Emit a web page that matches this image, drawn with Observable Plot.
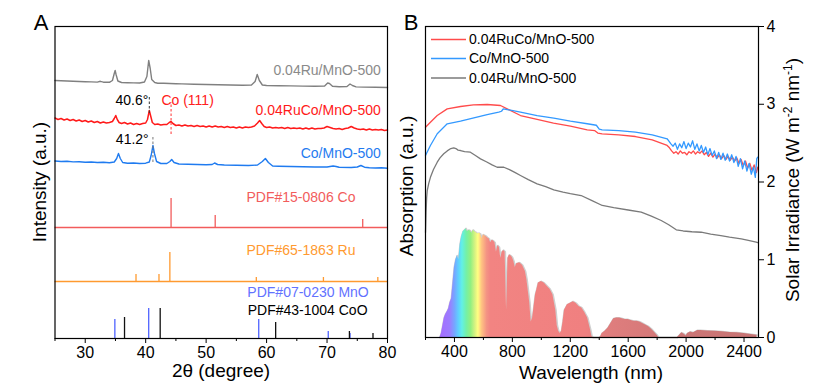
<!DOCTYPE html>
<html><head><meta charset="utf-8">
<script src="https://cdn.jsdelivr.net/npm/d3@7"></script>
<script src="https://cdn.jsdelivr.net/npm/@observablehq/plot@0.6"></script>
<style>
body{margin:0;background:#fff;}
#wrap{position:relative;width:828px;height:390px;overflow:hidden;background:#fff;}
#wrap svg{position:absolute;top:0;}
</style></head><body><div id="wrap"></div>
<script>
// ---------- Panel A: XRD (2θ in degrees, intensity in a.u.) ----------
const xrdRu = [[25,258],[26,257.8],[27,257.5],[28,257.3],[29,257],[30,256.8],[31,256.6],[32,256.4],[32.5,257.2],[33,256.3],[34,256.2],[34.5,258],[34.8,265],[34.95,268],[35.1,264],[35.4,257.5],[36,256],[37,255.8],[38,255.6],[39,255.5],[39.8,256.5],[40.2,262],[40.5,278],[40.75,270],[41,259],[41.5,256],[42,255.3],[43,255.2],[44,255],[45,254.8],[46,254.6],[48,254.3],[50,254],[52,253.7],[54,253.5],[56,253.3],[57.5,253.5],[58.1,257],[58.45,264],[58.8,258],[59.3,253.5],[60,253],[62,252.8],[64,252.6],[66,252.4],[68,252.2],[69.6,252.5],[70.1,255.5],[70.4,255],[70.9,252.2],[72,251.8],[73.3,252],[73.8,254.5],[74.2,253],[74.8,251.6],[76,251.4],[78,251.2],[80,251]];
const xrdRuCo = [[25,220.5],[25.5,219],[26,220],[26.5,218.5],[27,219.5],[27.5,218],[28,219],[28.5,217.5],[29,218.5],[29.5,217],[30,218],[30.5,216.5],[31,217.5],[31.5,216],[32,217],[32.5,215.5],[33,216.5],[33.5,215.5],[34,216],[34.5,217],[34.8,220],[35.05,223],[35.3,219],[35.6,216],[36,215],[36.5,216],[37,214.5],[37.5,215.5],[38,214],[38.5,215],[39,214],[39.5,215],[40,215.5],[40.3,219],[40.6,228],[40.85,222],[41.1,216],[41.5,214],[42,214.5],[42.5,213.5],[43,214],[43.5,214],[43.9,216],[44.2,217],[44.5,215],[45,213],[45.5,213.5],[46,212.5],[46.5,213.5],[47,212.5],[47.5,213],[48,212],[48.5,213],[49,212],[49.5,212.5],[50,211.5],[50.5,212.5],[51,211.5],[51.5,212.5],[52,211.5],[52.5,212],[53,211],[53.5,212],[54,211],[54.5,211.5],[55,210.5],[55.5,211.5],[56,210.5],[56.5,211.5],[57,211],[57.5,211.5],[58,212.5],[58.5,215.5],[58.85,218],[59.2,215],[59.6,212],[60,211],[60.5,211.5],[61,210.5],[61.5,211],[62,210.5],[62.5,211],[63,210],[63.5,211],[64,210],[64.5,210.5],[65,210],[65.5,210.5],[66,209.5],[66.5,210.5],[67,209.5],[67.5,210.5],[68,209.5],[68.5,210],[69,210],[69.5,210.5],[70,212],[70.5,211],[71,210],[71.5,209.5],[72,210],[72.5,209],[73,210],[73.5,210.5],[74,212],[74.5,210.5],[75,209.5],[75.5,209],[76,209.5],[76.5,208.5],[77,209.5],[77.5,208.5],[78,209],[78.5,208.5],[79,209],[79.5,208],[80,208.5]];
const xrdCo = [[25,177.5],[26,177],[27,177.2],[28,176.6],[29,176.8],[30,176.3],[31,176.5],[32,176],[33,176.2],[34,175.8],[34.8,176.5],[35.2,180],[35.5,185],[35.8,180],[36.2,176],[37,175.3],[38,175.5],[39,175],[40,175.3],[40.6,176.5],[40.9,183],[41.2,193],[41.45,185],[41.8,177],[42.5,175],[43.5,175],[44,177],[44.3,179],[44.7,176],[45.5,174.5],[47,174.3],[48.5,174],[50,173.8],[51,174],[51.4,175.5],[51.9,174],[53,173.5],[55,173.2],[57,173],[58.5,173.5],[59.3,177],[59.8,180],[60.3,176],[61,172.5],[62,172.3],[64,172],[66,171.8],[68,171.5],[70,171.5],[71,172.5],[71.5,172],[72,171.3],[74,171],[75,171.5],[75.6,173],[76.2,171.3],[77,170.8],[78,170.5],[79,170.7],[80,170.3]];
// reference patterns: [2θ, relative height]
const pdfCo  = [[44.2,29],[51.5,12],[75.9,8]];
const pdfRu  = [[38.4,7],[42.2,7],[44.0,29],[58.3,4],[69.4,4],[78.4,4]];
const pdfMnO = [[34.9,19],[40.5,30],[58.7,19],[70.2,7],[73.8,5]];
const pdfCoO = [[36.5,21],[42.4,30],[61.5,16],[73.7,7],[77.6,5]];
const ticksA = [30,40,50,60,70,80];
const minorA = [25,35,45,55,65,75];

// ---------- Panel B: absorption & solar irradiance (nm) ----------
const absRuCo = [[200,2.705],[234,2.769],[281,2.855],[350,2.941],[442,2.971],[531,2.993],[626,2.997],[718,2.984],[764,2.941],[856,2.855],[971,2.804],[1084,2.756],[1201,2.718],[1317,2.671],[1370,2.66],[1390,2.63],[1420,2.62],[1535,2.607],[1650,2.585],[1766,2.543],[1869,2.47],[1885,2.44],[1900,2.40],[1915,2.37],[1930,2.39],[1945,2.36],[1960,2.40],[1975,2.37],[1990,2.38],[2005,2.35],[2020,2.39],[2035,2.37],[2050,2.40],[2065,2.36],[2080,2.39],[2095,2.37],[2110,2.40],[2125,2.35],[2140,2.38],[2155,2.33],[2170,2.37],[2185,2.32],[2200,2.36],[2215,2.31],[2230,2.35],[2245,2.30],[2260,2.34],[2275,2.29],[2290,2.33],[2305,2.28],[2320,2.32],[2335,2.27],[2350,2.31],[2365,2.24],[2380,2.29],[2395,2.21],[2410,2.27],[2425,2.18],[2440,2.24],[2455,2.15],[2470,2.22],[2485,2.12],[2495,2.19]];
const absCo = [[200,2.341],[234,2.469],[281,2.62],[350,2.749],[442,2.782],[534,2.826],[626,2.868],[706,2.898],[725,2.91],[737,2.941],[764,2.932],[856,2.898],[971,2.855],[1086,2.821],[1201,2.782],[1317,2.749],[1380,2.73],[1400,2.68],[1420,2.671],[1535,2.662],[1650,2.641],[1766,2.607],[1869,2.556],[1880,2.53],[1895,2.49],[1910,2.46],[1925,2.50],[1940,2.42],[1955,2.49],[1970,2.44],[1985,2.52],[2000,2.43],[2015,2.50],[2030,2.45],[2045,2.53],[2060,2.42],[2075,2.49],[2090,2.40],[2105,2.47],[2120,2.38],[2135,2.45],[2150,2.35],[2165,2.43],[2180,2.34],[2195,2.40],[2210,2.30],[2225,2.38],[2240,2.29],[2255,2.37],[2270,2.28],[2285,2.36],[2300,2.27],[2315,2.35],[2330,2.25],[2345,2.33],[2360,2.20],[2375,2.30],[2390,2.17],[2405,2.27],[2420,2.14],[2435,2.24],[2450,2.10],[2465,2.19],[2478,2.06],[2488,2.30],[2495,2.32]];
const absRu = [[200,1.35],[204,1.62],[208,1.80],[212,1.89],[222,1.98],[234,2.06],[255,2.16],[281,2.255],[300,2.31],[326,2.363],[350,2.40],[375,2.43],[395,2.44],[410,2.43],[425,2.41],[442,2.405],[470,2.39],[510,2.383],[545,2.34],[580,2.298],[620,2.26],[660,2.22],[695,2.19],[720,2.19],[741,2.19],[780,2.16],[820,2.12],[856,2.084],[910,2.03],[971,1.977],[1030,1.94],[1086,1.90],[1150,1.87],[1200,1.85],[1275,1.826],[1350,1.76],[1421,1.698],[1500,1.67],[1600,1.64],[1690,1.612],[1760,1.56],[1828,1.505],[1880,1.45],[1932,1.385],[1980,1.37],[2040,1.36],[2104,1.354],[2170,1.33],[2240,1.31],[2300,1.29],[2381,1.269],[2430,1.25],[2484,1.227],[2495,1.22]];
const solar = [[300,0],[310,0.05],[320,0.15],[330,0.25],[340,0.3],[350,0.33],[360,0.37],[370,0.45],[380,0.5],[390,0.7],[400,0.9],[410,1.0],[420,1.05],[430,1.0],[440,1.2],[450,1.3],[460,1.36],[470,1.38],[480,1.40],[490,1.36],[500,1.38],[510,1.37],[520,1.34],[530,1.38],[540,1.36],[550,1.35],[560,1.33],[570,1.34],[580,1.33],[590,1.27],[600,1.32],[610,1.31],[620,1.30],[630,1.28],[640,1.27],[650,1.22],[660,1.25],[670,1.24],[680,1.22],[690,1.10],[700,1.18],[710,1.16],[720,1.02],[730,1.10],[740,1.12],[750,1.10],[760,0.35],[770,1.02],[780,1.06],[790,1.05],[800,1.03],[810,0.98],[820,0.90],[830,0.95],[850,0.96],[870,0.93],[890,0.85],[900,0.75],[920,0.45],[930,0.20],[940,0.25],[950,0.40],[960,0.55],[970,0.62],[980,0.70],[1000,0.72],[1020,0.70],[1040,0.66],[1060,0.62],[1080,0.55],[1100,0.35],[1110,0.15],[1120,0.08],[1130,0.05],[1140,0.08],[1150,0.20],[1160,0.35],[1180,0.42],[1200,0.44],[1220,0.46],[1240,0.44],[1260,0.40],[1280,0.38],[1300,0.32],[1320,0.25],[1340,0.10],[1350,0.01],[1360,0],[1400,0],[1410,0.01],[1420,0.05],[1440,0.08],[1460,0.12],[1480,0.18],[1500,0.24],[1520,0.25],[1540,0.25],[1560,0.24],[1580,0.23],[1600,0.23],[1620,0.22],[1640,0.21],[1660,0.21],[1680,0.20],[1700,0.18],[1720,0.16],[1740,0.14],[1760,0.11],[1780,0.07],[1800,0.03],[1810,0],[1940,0],[1950,0.02],[1970,0.06],[1990,0.04],[2000,0.02],[2010,0.05],[2030,0.07],[2050,0.06],[2060,0.07],[2080,0.09],[2100,0.09],[2150,0.085],[2200,0.08],[2250,0.075],[2300,0.065],[2350,0.06],[2400,0.05],[2450,0.04],[2490,0.03]];
const ticksB = [400,800,1200,1600,2000,2400];
const minorB = [200,600,1000,1400,1800,2200];
const ticksIrr = [0,1,2,3,4];
const legendB = [["0.04RuCo/MnO-500","#ff4b4b"],["Co/MnO-500","#3399ff"],["0.04Ru/MnO-500","#7a7a7a"]];

const FONT = 'Arial, "Liberation Sans", Helvetica, sans-serif';
const pts = a => a.map(([x, y]) => ({x, y}));
const wrap = document.getElementById("wrap");
const intFmt = d3.format("d");

// ---------- Panel A ----------
const offCo = 111, offRu = 57;
const A = Plot.plot({
  width: 398, height: 390,
  marginLeft: 54.5, marginRight: 11, marginTop: 26, marginBottom: 52,
  style: {fontFamily: FONT, fontSize: "16px", background: "transparent", color: "#000", overflow: "visible"},
  x: {domain: [25, 80], axis: null, label: null},
  y: {domain: [0, 312], axis: null, label: null},
  marks: [
    Plot.ruleY([offCo], {stroke: "#f25c5c", strokeWidth: 1.3}),
    Plot.ruleY([offRu], {stroke: "#ff9a30", strokeWidth: 1.3}),
    Plot.ruleX(pdfCo, {x: d => d[0], y1: offCo, y2: d => offCo + d[1], stroke: "#f25c5c", strokeWidth: 1.3}),
    Plot.ruleX(pdfRu, {x: d => d[0], y1: offRu, y2: d => offRu + d[1], stroke: "#ff9a30", strokeWidth: 1.3}),
    Plot.ruleX(pdfMnO, {x: d => d[0], y1: 0, y2: d => d[1], stroke: "#4f63ff", strokeWidth: 1.3}),
    Plot.ruleX(pdfCoO, {x: d => d[0], y1: 0, y2: d => d[1], stroke: "#111", strokeWidth: 1.3}),
    Plot.line(pts(xrdRu), {x: "x", y: "y", stroke: "#808080", strokeWidth: 1.4}),
    Plot.line(pts(xrdRuCo), {x: "x", y: "y", stroke: "#ff1a1a", strokeWidth: 1.5}),
    Plot.line(pts(xrdCo), {x: "x", y: "y", stroke: "#1f7bf0", strokeWidth: 1.4}),
    Plot.ruleX([40.6], {y1: 225, y2: 241, stroke: "#333", strokeDasharray: "2.5,2", strokeWidth: 1}),
    Plot.ruleX([44.2], {y1: 204, y2: 236, stroke: "#ff3030", strokeDasharray: "2.5,2", strokeWidth: 1}),
    Plot.ruleX([41.2], {y1: 176, y2: 203, stroke: "#777", strokeDasharray: "2.5,2", strokeWidth: 1}),
    Plot.text(["40.6°"], {x: 40.45, y: 238, textAnchor: "end", fill: "#000", fontSize: 14}),
    Plot.text(["Co (111)"], {x: 42.6, y: 238, textAnchor: "start", fill: "#ff2020", fontSize: 14}),
    Plot.text(["41.2°"], {x: 40.5, y: 199, textAnchor: "end", fill: "#000", fontSize: 14}),
    Plot.text(["0.04Ru/MnO-500"], {x: 78.9, y: 268, textAnchor: "end", fill: "#8a8a8a", fontSize: 14}),
    Plot.text(["0.04RuCo/MnO-500"], {x: 78.9, y: 228, textAnchor: "end", fill: "#ff1a1a", fontSize: 14}),
    Plot.text(["Co/MnO-500"], {x: 78.9, y: 185, textAnchor: "end", fill: "#1f7bf0", fontSize: 14}),
    Plot.text(["PDF#15-0806 Co"], {x: 74.7, y: 141, textAnchor: "end", fill: "#f25c5c", fontSize: 14}),
    Plot.text(["PDF#65-1863 Ru"], {x: 74.7, y: 88, textAnchor: "end", fill: "#ff9a30", fontSize: 14}),
    Plot.text(["PDF#07-0230 MnO"], {x: 76.9, y: 46, textAnchor: "end", fill: "#6272ff", fontSize: 14}),
    Plot.text(["PDF#43-1004 CoO"], {x: 76.7, y: 28, textAnchor: "end", fill: "#000", fontSize: 14}),
    Plot.frame({stroke: "#000", strokeWidth: 1.2}),
    Plot.axisX({ticks: ticksA, tickSize: 5, tickPadding: 3, tickFormat: intFmt, label: null, fontSize: 16}),
    Plot.axisX({ticks: minorA, tickSize: 3, tickFormat: () => "", label: null})
  ]
});
A.style.left = "0px";
wrap.appendChild(A);

// ---------- Panel B ----------
const B = Plot.plot({
  width: 430, height: 390,
  marginLeft: 27, marginRight: 70, marginTop: 26, marginBottom: 53,
  style: {fontFamily: FONT, fontSize: "16px", background: "transparent", color: "#000", overflow: "visible"},
  x: {domain: [200, 2500], axis: null, label: null},
  y: {domain: [0, 4], axis: null, label: null},
  marks: [
    Plot.line(pts(solar), {x: "x", y: "y", stroke: "#cfcfcf", strokeWidth: 2}),
    Plot.areaY(pts(solar), {x: "x", y: "y", fill: "url(#solarGrad)"}),
    Plot.line(pts(absRuCo), {x: "x", y: "y", stroke: "#ff4b4b", strokeWidth: 1.3}),
    Plot.line(pts(absCo), {x: "x", y: "y", stroke: "#3399ff", strokeWidth: 1.3}),
    Plot.line(pts(absRu), {x: "x", y: "y", stroke: "#7a7a7a", strokeWidth: 1.3}),
    Plot.frame({stroke: "#000", strokeWidth: 1.2}),
    Plot.axisX({ticks: ticksB, tickSize: 5, tickPadding: 3, tickFormat: intFmt, label: null, fontSize: 16}),
    Plot.axisX({ticks: minorB, tickSize: 3, tickFormat: () => "", label: null}),
    Plot.axisY({anchor: "right", ticks: ticksIrr, tickSize: 5, tickPadding: 3, tickFormat: intFmt, label: null, fontSize: 16})
  ]
});
B.style.left = "398px";
wrap.appendChild(B);

// gradient for the solar spectrum, positioned with the x scale
const xs = B.scale("x");
const gx1 = xs.apply(300), gx2 = xs.apply(2500);
const stops = [[300,"#a46cff"],[370,"#9c7cff"],[405,"#74a8ff"],[430,"#5fcfff"],[455,"#62f0e6"],[485,"#74f0a8"],[515,"#92f080"],[545,"#d8f282"],[565,"#ffff82"],[590,"#ffc482"],[625,"#f49484"],[650,"#f28482"],[1300,"#f08080"],[1450,"#e07e7e"],[1700,"#d87a7a"],[2000,"#cc7676"],[2500,"#c87474"]];
const defs = d3.select(B).insert("defs", ":first-child");
const lg = defs.append("linearGradient").attr("id", "solarGrad")
  .attr("gradientUnits", "userSpaceOnUse")
  .attr("x1", gx1).attr("x2", gx2).attr("y1", 0).attr("y2", 0);
stops.forEach(([nm, c]) => lg.append("stop").attr("offset", (xs.apply(nm) - gx1) / (gx2 - gx1)).attr("stop-color", c));

// legend in panel B
const sB = d3.select(B);
legendB.forEach(([name, c], i) => {
  const y = [39.5, 58.5, 78][i];
  sB.append("line").attr("x1", 33).attr("x2", 68).attr("y1", y).attr("y2", y).attr("stroke", c).attr("stroke-width", 1.5);
  sB.append("text").attr("x", 71).attr("y", y).attr("dy", "0.35em").attr("text-anchor", "start")
    .attr("font-family", FONT).attr("font-size", 14).attr("fill", "#000").text(name);
});

// titles and axis labels
const sA = d3.select(A);
sA.append("text").attr("x", 41).attr("y", 30).attr("text-anchor", "middle").attr("font-family", FONT).attr("font-size", 22).text("A");
sA.append("text").attr("transform", "translate(46,182) rotate(-90)").attr("text-anchor", "middle").attr("font-family", FONT).attr("font-size", 19).text("Intensity (a.u.)");
sA.append("text").attr("x", 221).attr("y", 377).attr("text-anchor", "middle").attr("font-family", FONT).attr("font-size", 19).text("2θ (degree)");

sB.append("text").attr("x", 13).attr("y", 30).attr("text-anchor", "middle").attr("font-family", FONT).attr("font-size", 22).text("B");
sB.append("text").attr("transform", "translate(15,186) rotate(-90)").attr("text-anchor", "middle").attr("font-family", FONT).attr("font-size", 19).text("Absorption (a.u.)");
sB.append("text").attr("x", 193).attr("y", 379).attr("text-anchor", "middle").attr("font-family", FONT).attr("font-size", 19).text("Wavelength (nm)");
const irr = sB.append("text").attr("transform", "translate(401,180) rotate(-90)").attr("text-anchor", "middle").attr("font-family", FONT).attr("font-size", 19);
irr.append("tspan").text("Solar Irradiance (W m");
irr.append("tspan").attr("dy", -7).attr("font-size", 12).text("-2");
irr.append("tspan").attr("dy", 7).text(" nm");
irr.append("tspan").attr("dy", -7).attr("font-size", 12).text("-1");
irr.append("tspan").attr("dy", 7).text(")");
</script>
</body></html>
